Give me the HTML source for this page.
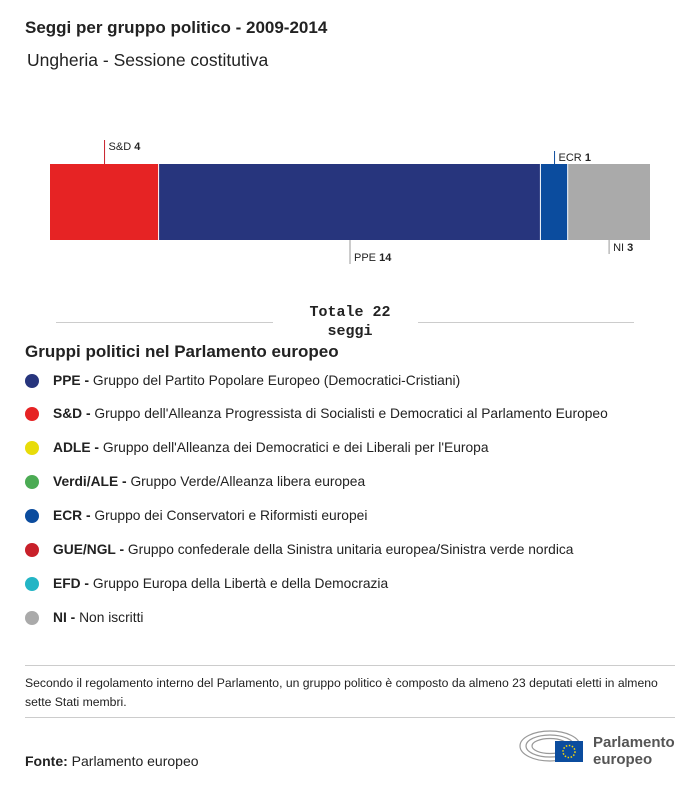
<!DOCTYPE html>
<html><head><meta charset="utf-8"><style>
body{margin:0;width:700px;height:786px;background:#fff;font-family:"Liberation Sans",sans-serif;color:#222;position:relative;overflow:hidden}
.a{position:absolute;white-space:nowrap}
.leg{position:absolute;left:25px;font-size:13.8px;height:16px;white-space:nowrap;width:660px}
.leg .dot{position:absolute;left:0;top:0;width:14px;height:14px;border-radius:50%}
.leg span.t{position:absolute;left:28px;top:-1px;white-space:nowrap}
</style></head><body>
<div class="a" style="left:25px;top:18px;font-size:17px;font-weight:bold">Seggi per gruppo politico - 2009-2014</div>
<div class="a" style="left:27px;top:50px;font-size:17.5px">Ungheria - Sessione costitutiva</div>
<svg id="chart" width="700" height="290" style="position:absolute;left:0;top:0"></svg>
<div class="a" style="left:56px;top:322px;width:217px;border-top:1px solid #ccc"></div>
<div class="a" style="left:418px;top:322px;width:216px;border-top:1px solid #ccc"></div>
<div class="a" style="left:290px;top:303px;width:120px;text-align:center;font-family:'Liberation Mono',monospace;font-weight:bold;font-size:15px;line-height:19px;white-space:normal">Totale 22 seggi</div>
<div class="a" style="left:25px;top:342px;font-size:17px;font-weight:bold">Gruppi politici nel Parlamento europeo</div>
<div class="leg" style="top:374px"><div class="dot" style="background:#27357d"></div><span class="t"><b>PPE -</b> Gruppo del Partito Popolare Europeo (Democratici-Cristiani)</span></div>
<div class="leg" style="top:407px"><div class="dot" style="background:#e62324"></div><span class="t"><b>S&amp;D -</b> Gruppo dell'Alleanza Progressista di Socialisti e Democratici al Parlamento Europeo</span></div>
<div class="leg" style="top:441px"><div class="dot" style="background:#e8dc0a"></div><span class="t"><b>ADLE -</b> Gruppo dell'Alleanza dei Democratici e dei Liberali per l'Europa</span></div>
<div class="leg" style="top:475px"><div class="dot" style="background:#4bab54"></div><span class="t"><b>Verdi/ALE -</b> Gruppo Verde/Alleanza libera europea</span></div>
<div class="leg" style="top:509px"><div class="dot" style="background:#0b4c9e"></div><span class="t"><b>ECR -</b> Gruppo dei Conservatori e Riformisti europei</span></div>
<div class="leg" style="top:543px"><div class="dot" style="background:#c8202a"></div><span class="t"><b>GUE/NGL -</b> Gruppo confederale della Sinistra unitaria europea/Sinistra verde nordica</span></div>
<div class="leg" style="top:577px"><div class="dot" style="background:#23b5c5"></div><span class="t"><b>EFD -</b> Gruppo Europa della Libertà e della Democrazia</span></div>
<div class="leg" style="top:611px"><div class="dot" style="background:#aaaaaa"></div><span class="t"><b>NI -</b> Non iscritti</span></div>
<div class="a" style="left:25px;top:665px;width:650px;border-top:1px solid #ccc"></div>
<div class="a" style="left:25px;top:674px;width:660px;font-size:12.2px;line-height:19px;white-space:normal">Secondo il regolamento interno del Parlamento, un gruppo politico è composto da almeno 23 deputati eletti in almeno sette Stati membri.</div>
<div class="a" style="left:25px;top:717px;width:650px;border-top:1px solid #ccc"></div>
<div class="a" style="left:25px;top:753px;font-size:14px"><b>Fonte:</b> Parlamento europeo</div>
<svg width="75" height="40" style="position:absolute;left:518px;top:728px">
<g fill="none" stroke="#999" stroke-width="1.2"><ellipse cx="32" cy="18" rx="30" ry="15"/><ellipse cx="32" cy="18" rx="24" ry="11"/><ellipse cx="32" cy="18" rx="18" ry="7.5"/></g>
<rect x="37" y="13" width="28" height="21" fill="#0b4c9e"/><circle cx="51" cy="23.5" r="6" fill="none" stroke="#f5d60a" stroke-width="1.5" stroke-dasharray="1.5 1.6"/></svg>
<div class="a" style="left:593px;top:734px;font-size:15px;font-weight:bold;color:#555;line-height:17px">Parlamento<br>europeo</div>
<script>
const groups=["S&D","PPE","ECR","NI"];
const seats=[4,14,1,3];
const colors=["#e62324","#27357d","#0b4c9e","#aaaaaa"];
const sides=["up","down","up","down"];
const lens=[24,24,13,14];
const svg=document.getElementById('chart');const NS="http://www.w3.org/2000/svg";
const total=seats.reduce((a,b)=>a+b,0);
const x0=50,W=600,y0=164,H=76;
const sx=v=>x0+v/total*W;
let cum=0;
seats.forEach((s,i)=>{
 const xa=sx(cum),xb=sx(cum+s);cum+=s;
 const r=document.createElementNS(NS,'rect');
 r.setAttribute('x',xa);r.setAttribute('y',y0);r.setAttribute('width',Math.max(0,xb-xa-(i<seats.length-1?1:0)));r.setAttribute('height',H);r.setAttribute('fill',colors[i]);
 
 
 svg.appendChild(r);
 const m=(xa+xb)/2;const up=sides[i]==='up';
 const y1=up?y0-lens[i]:y0+H, y2=up?y0:y0+H+lens[i];
 const l=document.createElementNS(NS,'line');
 l.setAttribute('x1',m);l.setAttribute('x2',m);l.setAttribute('y1',y1);l.setAttribute('y2',y2);l.setAttribute('stroke',up&&i===0?'#c8202a':(up?'#0b4c9e':'#999'));
 
 
 svg.appendChild(l);
 const t=document.createElementNS(NS,'text');
 t.setAttribute('x',m+4);t.setAttribute('y',up?y1+10:y2-3);t.setAttribute('font-size','11');t.setAttribute('fill','#222');
 t.innerHTML=groups[i].replace('&','&amp;')+' <tspan font-weight="bold">'+s+'</tspan>';
 
 
 svg.appendChild(t);
});
</script>
</body></html>
